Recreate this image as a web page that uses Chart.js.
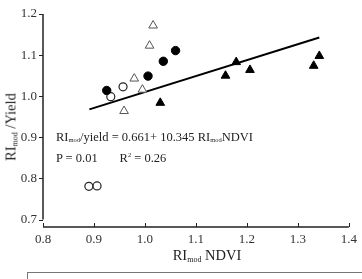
<!DOCTYPE html>
<html>
<head>
<meta charset="utf-8">
<script src="https://cdn.jsdelivr.net/npm/chart.js@4/dist/chart.umd.min.js"></script>
<style>
  html, body { margin: 0; padding: 0; background: #fff; }
  #wrap { position: relative; width: 362px; height: 279px; overflow: hidden; font-family: "Liberation Serif", "DejaVu Serif", serif; color: #222; }
  #c { position: absolute; left: 0; top: 0; }
  .t { position: absolute; white-space: nowrap; font-weight: normal; }
  .ttl { font-size: 14.5px; }
  .ttl sub { font-size: 8px; vertical-align: -2px; }
  #note sub { font-size: 6.5px; vertical-align: -1px; }
  #ytitle { left: 11px; top: 127px; transform: translate(-50%, -50%) rotate(-90deg); }
  #xtitle { left: 207px; top: 255px; transform: translate(-50%, -50%); }
  #note { left: 56px; top: 130px; line-height: 15px; font-size: 12.5px; }
  #legendbox { position: absolute; left: 27px; top: 272px; width: 345px; height: 30px; border: 1px solid #777; box-sizing: border-box; }
</style>
</head>
<body>
<div id="wrap">
  <canvas id="c" width="362" height="279"></canvas>
  <div class="t ttl" id="ytitle">RI<sub>mod</sub> /Yield</div>
  <div class="t ttl" id="xtitle">RI<sub>mod</sub> NDVI</div>
  <div class="t" id="note">RI<sub>mod</sub>/yield = 0.661+ 10.345 RI<sub>mod</sub>NDVI<br>P = 0.01&nbsp;&nbsp;&nbsp;&nbsp;&nbsp;&nbsp;&nbsp;R<sup style="font-size:6.5px;vertical-align:5px">2</sup> = 0.26</div>
  <div id="legendbox"></div>
</div>
<script>
// ---- data ----
const filledCircleX = [0.925, 1.006, 1.036, 1.060];
const filledCircleY = [1.014, 1.049, 1.085, 1.111];
const openCircleX = [0.933, 0.957, 0.890, 0.906];
const openCircleY = [0.999, 1.023, 0.781, 0.782];
const openTriangleX = [1.016, 1.009, 0.979, 0.995, 0.959];
const openTriangleY = [1.172, 1.123, 1.043, 1.016, 0.964];
const filledTriangleX = [1.030, 1.158, 1.179, 1.206, 1.331, 1.342];
const filledTriangleY = [0.984, 1.050, 1.083, 1.064, 1.074, 1.098];
const fitX = [0.891, 1.342];
const fitY = [0.968, 1.143];
const xTicks = [0.8, 0.9, 1.0, 1.1, 1.2, 1.3, 1.4];
const yTicks = [0.7, 0.8, 0.9, 1.0, 1.1, 1.2];

const pts = (xs, ys) => xs.map((x, i) => ({ x: x, y: ys[i] }));

const axisPlugin = {
  id: 'axisLines',
  afterDraw(chart) {
    const ctx = chart.ctx, xs = chart.scales.x, ys = chart.scales.y;
    const a = chart.chartArea;
    ctx.save();
    ctx.strokeStyle = '#222';
    ctx.lineWidth = 1.5;
    ctx.beginPath();
    ctx.moveTo(a.left, ys.getPixelForValue(1.2));
    ctx.lineTo(a.left, ys.getPixelForValue(0.7));
    ctx.moveTo(a.left, a.bottom);
    ctx.lineTo(a.right, a.bottom);
    ctx.stroke();
    ctx.lineWidth = 1;
    ctx.beginPath();
    yTicks.forEach(v => { const p = Math.round(ys.getPixelForValue(v)) + 0.5; ctx.moveTo(a.left - 4, p); ctx.lineTo(a.left, p); });
    xTicks.forEach(v => { const p = Math.round(xs.getPixelForValue(v)) + 0.5; ctx.moveTo(p, a.bottom); ctx.lineTo(p, a.bottom - 4); });
    ctx.stroke();
    ctx.restore();
  }
};

new Chart(document.getElementById('c'), {
  type: 'scatter',
  data: {
    datasets: [
      { label: 'fit', data: pts(fitX, fitY), showLine: true, borderColor: '#000', borderWidth: 2, pointRadius: 0, order: 5 },
      { label: 'filled circle', data: pts(filledCircleX, filledCircleY), pointStyle: 'circle', pointRadius: 4.2, backgroundColor: '#000', borderColor: '#000', borderWidth: 1 },
      { label: 'open circle', data: pts(openCircleX, openCircleY), pointStyle: 'circle', pointRadius: 4, backgroundColor: '#fff', borderColor: '#222', borderWidth: 1.2 },
      { label: 'open triangle', data: pts(openTriangleX, openTriangleY), pointStyle: 'triangle', pointRadius: 5, backgroundColor: '#fff', borderColor: '#555', borderWidth: 1 },
      { label: 'filled triangle', data: pts(filledTriangleX, filledTriangleY), pointStyle: 'triangle', pointRadius: 5, backgroundColor: '#000', borderColor: '#000', borderWidth: 1 }
    ]
  },
  options: {
    responsive: false,
    animation: false,
    events: [],
    layout: { padding: { top: 14, right: 8, left: 0, bottom: 0 } },
    plugins: { legend: { display: false }, tooltip: { enabled: false } },
    scales: {
      x: {
        type: 'linear', min: 0.8, max: 1.4,
        afterBuildTicks: s => { s.ticks = xTicks.map(v => ({ value: v })); },
        afterFit: s => { s.height = 52; },
        grid: { display: false, drawTicks: false },
        border: { display: false },
        ticks: { padding: 5, color: '#333', font: { family: 'Liberation Serif', size: 13 }, maxRotation: 0, callback: v => v.toFixed(1) }
      },
      y: {
        type: 'linear', min: 0.682, max: 1.2,
        afterBuildTicks: s => { s.ticks = yTicks.map(v => ({ value: v })); },
        afterFit: s => { s.width = 43; },
        grid: { display: false, drawTicks: false },
        border: { display: false },
        ticks: { padding: 6, color: '#333', font: { family: 'Liberation Serif', size: 13 }, callback: v => v.toFixed(1) }
      }
    }
  },
  plugins: [axisPlugin]
});
</script>
</body>
</html>
